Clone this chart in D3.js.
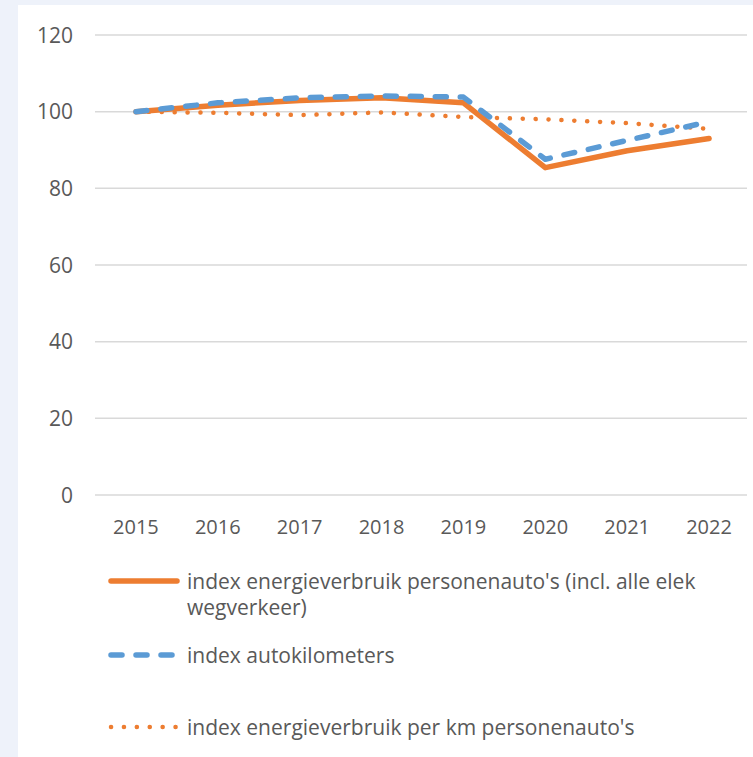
<!DOCTYPE html>
<html><head><meta charset="utf-8">
<script src="https://cdn.jsdelivr.net/npm/d3@7/dist/d3.min.js"></script>
<style>
html,body{margin:0;padding:0;background:#eef2fa;}
svg{display:block;}
text{font-family:"Open Sans",sans-serif;fill:#595959;}
</style></head>
<body>
<svg id="chart" width="753" height="757"></svg>
<script>
const years = ["2015","2016","2017","2018","2019","2020","2021","2022"];
const energie = [100, 101.7, 102.9, 103.6, 102.3, 85.4, 89.8, 93.0];
const autokm = [100, 102.3, 103.6, 104.1, 103.8, 87.6, 92.5, 97.4];
const perKm = [100, 99.7, 99.1, 99.8, 98.6, 98.0, 97.0, 95.5];
const yTicks = [0, 20, 40, 60, 80, 100, 120];
const seriesNames = [
  ["index energieverbruik personenauto's (incl. alle elek", "wegverkeer)"],
  ["index autokilometers"],
  ["index energieverbruik per km personenauto's"]
];

const svg = d3.select("#chart");
svg.append("rect").attr("x",18).attr("y",5).attr("width",735).attr("height",752).attr("fill","#ffffff");

const x = d3.scaleBand().domain(years).range([95, 750]);
const y = d3.scaleLinear().domain([0, 120]).range([495, 35]);

// grid
svg.append("g").selectAll("line").data(yTicks).join("line")
  .attr("x1", 95).attr("x2", 747)
  .attr("y1", d => y(d)).attr("y2", d => y(d))
  .attr("stroke", "#d9d9d9").attr("stroke-width", 1.5);

// y labels
svg.append("g").selectAll("text").data(yTicks).join("text")
  .attr("x", 73).attr("y", d => y(d)).attr("dy", "0.36em")
  .attr("text-anchor", "end").style("font-size", "21px").text(d => d);

// x labels
svg.append("g").selectAll("text").data(years).join("text")
  .attr("x", d => x(d) + x.bandwidth()/2).attr("y", 527).attr("dy", "0.36em")
  .attr("text-anchor", "middle").style("font-size", "20px").text(d => d);

const line = d3.line().x((d,i) => x(years[i]) + x.bandwidth()/2).y(d => y(d));

const styles = [
  {color:"#ED7D31", width:5.5, dash:null, cap:"round"},
  {color:"#5B9BD5", width:5.5, dash:"11 14", cap:"round"},
  {color:"#ED7D31", width:4.5, dash:"0.1 12.8", cap:"round"}
];
const data = [energie, autokm, perKm];

// draw order: dotted, solid, dashed on top
[2,0,1].forEach(k => {
  svg.append("path").datum(data[k]).attr("d", line)
    .attr("fill","none").attr("stroke", styles[k].color)
    .attr("stroke-width", styles[k].width)
    .attr("stroke-linecap", styles[k].cap)
    .attr("stroke-linejoin","round")
    .attr("stroke-dasharray", styles[k].dash);
});

// legend
const legY = [581, 655, 727];
const leg = svg.append("g");
seriesNames.forEach((lines, k) => {
  const s = styles[k];
  leg.append("line").attr("x1", 111).attr("x2", 177).attr("y1", legY[k]).attr("y2", legY[k])
    .attr("stroke", s.color).attr("stroke-width", s.width).attr("stroke-linecap", s.cap)
    .attr("stroke-dasharray", s.dash);
  lines.forEach((t, j) => {
    leg.append("text").attr("x", 187).attr("y", legY[k] + j*26).attr("dy","0.36em")
      .style("font-size","18px").text(t);
  });
});
// fit legend font width to reference (first line ~509px)
const first = leg.selectAll("text").nodes()[0];
const w = first.getComputedTextLength();
const fs = 18 * 509 / w;
leg.selectAll("text").style("font-size", fs + "px");
</script>
</body></html>
